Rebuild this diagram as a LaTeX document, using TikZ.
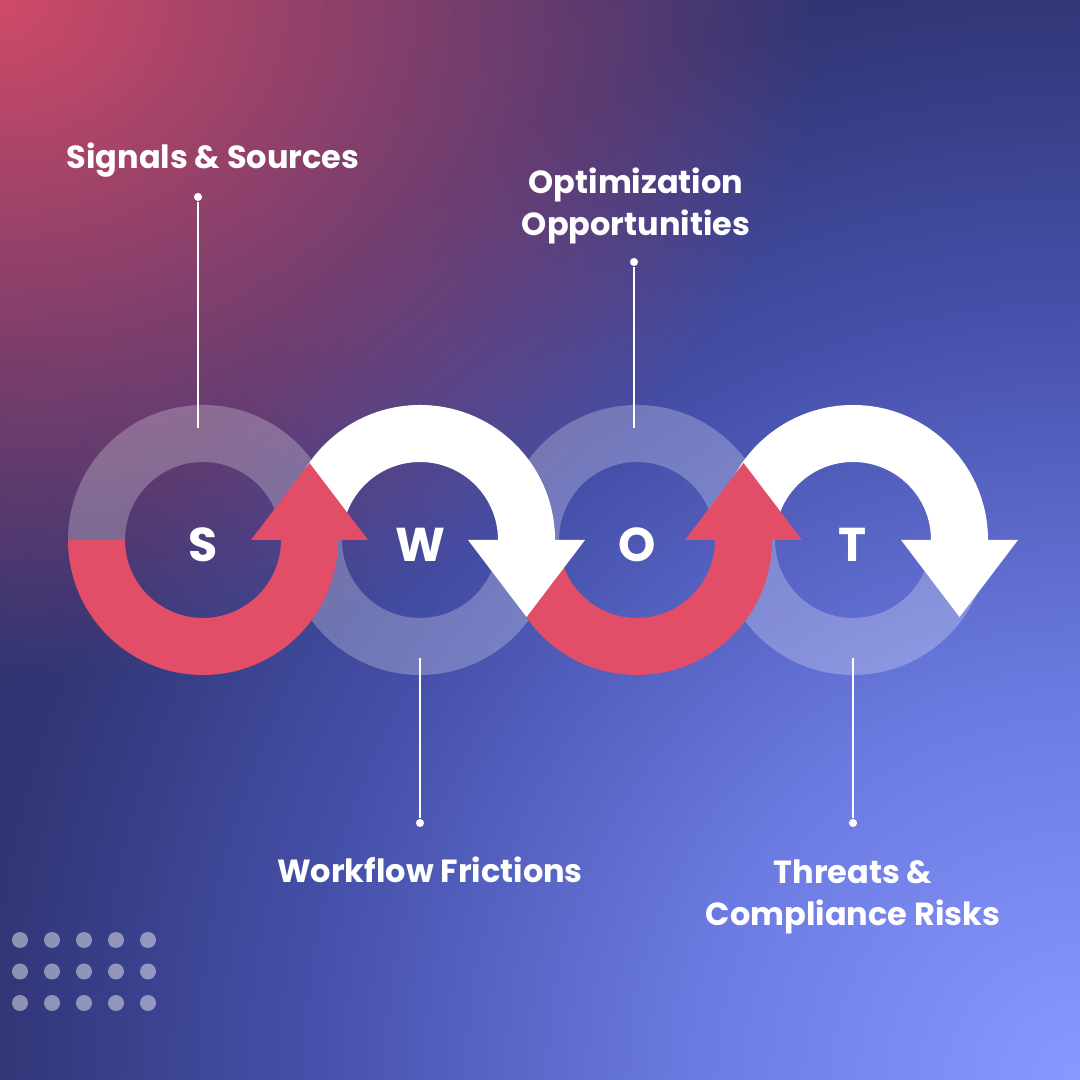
\documentclass[tikz,border=0pt]{standalone}
\usepackage{fontspec}
\setmainfont{Poppins}
\usetikzlibrary{fadings}

\definecolor{bgnavy}{RGB}{46,51,110}
\definecolor{bgpink}{RGB}{208,74,104}
\definecolor{swotred}{RGB}{226,78,104}

\pgfdeclareradialshading{bgglow}{\pgfpointorigin}{rgb(0bp)=(0.54,0.60,1.0); rgb(7.5bp)=(0.42,0.48,0.88); rgb(15bp)=(0.27,0.31,0.66); rgb(21bp)=(0.19,0.21,0.46); rgb(25bp)=(0.18,0.2,0.43); rgb(50bp)=(0.18,0.2,0.43)}
\pgfdeclareradialshading{pinkfadeshade}{\pgfpointorigin}{color(0bp)=(white); color(25bp)=(black); color(50bp)=(black)}
\pgfdeclarefading{pinkfade}{\pgfuseshading{pinkfadeshade}}

\tikzset{
  faint/.style={fill=white,fill opacity=0.25},
  label/.style={text=white,font=\bfseries\fontsize{9.1}{12.2}\selectfont,align=center,anchor=base},
  letter/.style={text=white,font=\bfseries\fontsize{13.5}{14}\selectfont,anchor=base},
  pin/.style={circle,fill=white,inner sep=0pt,minimum size=2.3pt},
}

% half rings: #1 centre, #2 style
\newcommand{\upperring}[2]{\fill[#2] (#1) ++(0:135) arc[start angle=0,end angle=180,radius=135] -- ++(57,0) arc[start angle=180,end angle=0,radius=78] -- cycle;}
\newcommand{\lowerring}[2]{\fill[#2] (#1) ++(180:135) arc[start angle=180,end angle=360,radius=135] -- ++(-57,0) arc[start angle=360,end angle=180,radius=78] -- cycle;}

\begin{document}
\begin{tikzpicture}[x=0.01cm,y=0.01cm]
\useasboundingbox (0,0) rectangle (1080,1080);
% background
\begin{scope}
\clip (0,0) rectangle (1080,1080);
\fill[bgnavy] (0,0) rectangle (1080,1080);
\shade[shading=bgglow] (1080,0) circle (1300);
\fill[bgpink,path fading=pinkfade] (0,1080) ellipse (820 and 680);
\end{scope}

\coordinate (S) at (203,540);
\coordinate (W) at (420,540);
\coordinate (O) at (637,540);
\coordinate (T) at (853,540);

% faint halves
\upperring{S}{faint}
\lowerring{W}{faint}
\upperring{O}{faint}
\lowerring{T}{faint}
% solid halves
\lowerring{S}{swotred}
\lowerring{O}{swotred}
\upperring{W}{white}
\upperring{T}{white}
% arrow heads
\fill[swotred] (S) ++(48,0) -- ++(117,0) -- ++(-58.5,77) -- cycle;
\fill[swotred] (O) ++(48,0) -- ++(117,0) -- ++(-58.5,77) -- cycle;
\fill[white] (W) ++(48,0) -- ++(117,0) -- ++(-58.5,-77) -- cycle;
\fill[white] (T) ++(48,0) -- ++(117,0) -- ++(-58.5,-77) -- cycle;

\node[letter] (s) at (203,518) {S};
\node[letter] (w) at (420,518) {W};
\node[letter] (o) at (637,518) {O};
\node[letter] (t) at (853,518) {T};

% labels (base = last line)
\node[label] (sig) at (213,911) {Signals \& Sources};
\node[label] (opt) at (636,844) {Optimization\\Opportunities};
\node[label] (wf) at (430,197) {Workflow Frictions};
\node[label] (thr) at (853,154) {Threats \&\\Compliance Risks};

\node[pin] (sigdot) at (198,883) {};
\node[pin] (optdot) at (634,818) {};
\node[pin] (wfdot) at (420,257) {};
\node[pin] (thrdot) at (853,257) {};
\coordinate (sigend) at (198,652);
\coordinate (optend) at (634,652);
\coordinate (wfend) at (420,422);
\coordinate (thrend) at (853,422);
\draw[white,line width=0.6pt] (sigdot) -- (sigend);
\draw[white,line width=0.6pt] (optdot) -- (optend);
\draw[white,line width=0.6pt] (wfdot) -- (wfend);
\draw[white,line width=0.6pt] (thrdot) -- (thrend);

% dots
\foreach \i in {0,...,4}
  \foreach \j in {0,...,2}
    \fill[white,fill opacity=0.45] (20+32*\i,140-31.5*\j) circle (8);
\end{tikzpicture}
\end{document}
